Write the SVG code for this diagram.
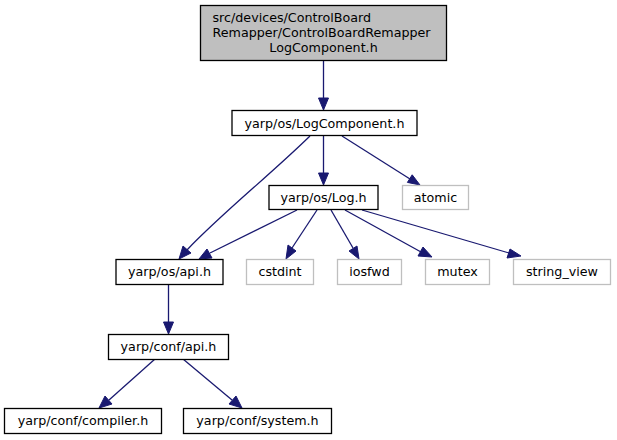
<svg xmlns="http://www.w3.org/2000/svg" width="617" height="440" viewBox="0 0 617 440">
<style>
text{font-family:"DejaVu Sans",sans-serif;font-size:12.7px;fill:#000;text-anchor:middle}
.n rect{fill:#fff;stroke:#000;stroke-width:1.3}
.x rect{fill:#fff;stroke:#bfbfbf;stroke-width:1.3}
.e path{fill:none;stroke:#191970;stroke-width:1.3}
.e polygon{fill:#191970;stroke:#191970;stroke-width:1}
</style>
<rect width="617" height="440" fill="#fff"/>
<g id="edges" class="e">
<path d="M323.5,61V98"/><polygon points="318.5,98 323.5,110 328.5,98"/>
<path d="M323.5,136V173"/><polygon points="318.5,173 323.5,185 328.5,173"/>
<path d="M342,136L410,179"/><polygon points="407.4,182.4 420,185 412.2,174.8"/>
<path d="M310,136C270,175 220,215 187,250"/><polygon points="183,246 179,259 191,253"/>
<path d="M297,210L210,253"/><polygon points="207,249 199,259 212,258"/>
<path d="M317,210L292,248"/><polygon points="288,245 286,259 296,251"/>
<path d="M331,210L353,248"/><polygon points="349,251 359,259 357,246"/>
<path d="M345,210L421,252"/><polygon points="418,256 432,257 423,247"/>
<path d="M362,210L509,253"/><polygon points="507,258 521,256 510,249"/>
<path d="M168.5,284V322"/><polygon points="163.5,322 168.5,334 173.5,322"/>
<path d="M155,359L109,400"/><polygon points="105,396 99,408 112,404"/>
<path d="M183,359L232,400"/><polygon points="229,404 242,408 236,396"/>
</g>
<g id="node_top" class="n"><rect x="200.5" y="5.5" width="246" height="55" style="fill:#bfbfbf"/>
<text x="212.5" y="22" style="text-anchor:start">src/devices/ControlBoard</text>
<text x="212.5" y="37" style="text-anchor:start">Remapper/ControlBoardRemapper</text>
<text x="323.5" y="52">LogComponent.h</text></g>
<g id="node_logcomponent" class="n"><rect x="232" y="110.5" width="185" height="25"/><text x="324.5" y="127.5">yarp/os/LogComponent.h</text></g>
<g id="node_log" class="n"><rect x="269" y="185.5" width="109" height="24"/><text x="323.5" y="202">yarp/os/Log.h</text></g>
<g id="node_atomic" class="x"><rect x="402.5" y="185.5" width="66" height="24"/><text x="435.5" y="202">atomic</text></g>
<g id="node_osapi" class="n"><rect x="116" y="259.5" width="107" height="25"/><text x="169.5" y="276">yarp/os/api.h</text></g>
<g id="node_cstdint" class="x"><rect x="246.5" y="259.5" width="67" height="25"/><text x="280" y="276">cstdint</text></g>
<g id="node_iosfwd" class="x"><rect x="337.5" y="259.5" width="64" height="25"/><text x="369.5" y="276">iosfwd</text></g>
<g id="node_mutex" class="x"><rect x="425.5" y="259.5" width="64" height="25"/><text x="457.5" y="276">mutex</text></g>
<g id="node_string_view" class="x"><rect x="513.5" y="259.5" width="97" height="25"/><text x="562" y="276">string_view</text></g>
<g id="node_confapi" class="n"><rect x="108.5" y="334.5" width="120" height="25"/><text x="168.5" y="351">yarp/conf/api.h</text></g>
<g id="node_compiler" class="n"><rect x="4.5" y="408.5" width="157" height="25"/><text x="83" y="425">yarp/conf/compiler.h</text></g>
<g id="node_system" class="n"><rect x="183.5" y="408.5" width="148" height="25"/><text x="257.5" y="425">yarp/conf/system.h</text></g>
</svg>
